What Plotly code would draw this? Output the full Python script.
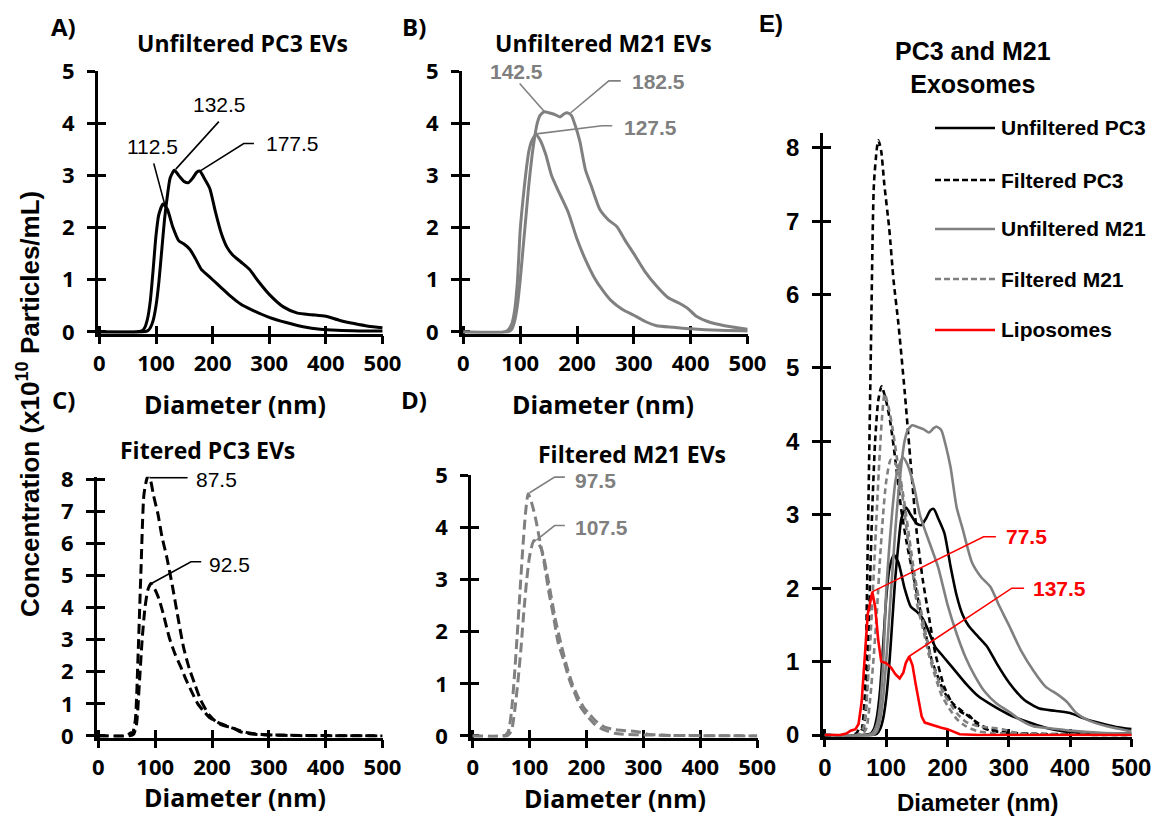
import plotly.graph_objects as go

# ---------------- data ----------------
# Unfiltered PC3 (two replicates)
upc3_a_x = [0, 60, 75, 80, 85, 90, 95, 100, 105, 112.5, 120, 130, 140, 150, 160, 170, 180, 190, 200, 215, 230, 250, 270, 300, 330, 360, 390, 420, 460, 500]
upc3_a_y = [0, 0, 0.02, 0.08, 0.25, 0.6, 1.2, 1.85, 2.25, 2.45, 2.35, 2.0, 1.75, 1.68, 1.58, 1.4, 1.2, 1.1, 1.0, 0.85, 0.7, 0.53, 0.42, 0.28, 0.18, 0.1, 0.05, 0.03, 0.02, 0.02]
upc3_b_x = [0, 75, 85, 90, 95, 100, 105, 110, 115, 120, 125, 132.5, 140, 150, 157.5, 165, 172, 177.5, 185, 195, 205, 215, 225, 235, 250, 265, 280, 300, 325, 350, 375, 400, 425, 450, 475, 500]
upc3_b_y = [0, 0, 0.02, 0.08, 0.22, 0.5, 0.95, 1.55, 2.15, 2.6, 2.95, 3.1, 3.0, 2.88, 2.86, 2.95, 3.06, 3.08, 2.95, 2.75, 2.3, 1.9, 1.63, 1.48, 1.34, 1.2, 0.98, 0.72, 0.48, 0.36, 0.33, 0.3, 0.22, 0.16, 0.11, 0.08]

# Unfiltered M21
um21_a_x = [0, 70, 78, 85, 90, 95, 100, 105, 110, 115, 120, 127.5, 135, 145, 155, 165, 175, 185, 200, 215, 230, 245, 260, 280, 300, 320, 340, 370, 400, 450, 500]
um21_a_y = [0, 0, 0.03, 0.15, 0.4, 0.95, 1.95, 2.55, 3.05, 3.45, 3.65, 3.78, 3.68, 3.4, 3.0, 2.75, 2.52, 2.28, 1.78, 1.38, 1.05, 0.8, 0.6, 0.43, 0.32, 0.2, 0.12, 0.09, 0.06, 0.03, 0.02]
um21_b_x = [0, 78, 85, 90, 95, 100, 105, 110, 115, 120, 125, 130, 135, 142.5, 150, 160, 170, 177.5, 182.5, 190, 197, 205, 215, 225, 240, 255, 270, 285, 300, 320, 340, 360, 380, 395, 410, 430, 460, 500]
um21_b_y = [0, 0, 0.05, 0.2, 0.5, 1.0, 1.6, 2.2, 2.8, 3.3, 3.7, 4.0, 4.15, 4.22, 4.2, 4.17, 4.12, 4.18, 4.2, 4.15, 3.95, 3.65, 3.1, 2.8, 2.35, 2.15, 2.02, 1.75, 1.5, 1.15, 0.88, 0.66, 0.55, 0.45, 0.3, 0.2, 0.12, 0.05]

# Filtered PC3
fpc3_a_x = [0, 45, 52, 57, 60, 65, 70, 75, 80, 85, 87.5, 92, 97, 105, 112, 120, 130, 140, 150, 160, 170, 180, 195, 210, 225, 235, 250, 270, 300, 350, 500]
fpc3_a_y = [0, 0, 0.03, 0.1, 0.08, 0.5, 2.6, 5.2, 7.5, 8.0, 8.1, 7.95, 7.5, 6.9, 6.2, 5.6, 4.7, 3.7, 2.75, 2.1, 1.6, 1.12, 0.65, 0.4, 0.3, 0.27, 0.13, 0.06, 0.03, 0.01, 0]
fpc3_b_x = [0, 55, 62, 67, 72, 77, 82, 87, 92.5, 100, 107, 115, 125, 135, 145, 155, 165, 175, 185, 195, 210, 225, 240, 260, 290, 330, 400, 500]
fpc3_b_y = [0, 0, 0.05, 0.35, 1.6, 3.0, 4.0, 4.55, 4.75, 4.55, 4.25, 3.75, 3.05, 2.55, 2.15, 1.72, 1.35, 1.0, 0.78, 0.58, 0.42, 0.32, 0.22, 0.11, 0.04, 0.02, 0.01, 0]

# Filtered M21
fm21_a_x = [0, 50, 58, 63, 68, 73, 78, 83, 88, 93, 97.5, 103, 110, 118, 126, 134, 142, 150, 160, 170, 180, 190, 200, 215, 230, 250, 270, 300, 350, 500]
fm21_a_y = [0, 0, 0.02, 0.1, 0.45, 1.1, 1.9, 2.75, 3.6, 4.3, 4.65, 4.5, 4.2, 3.75, 3.3, 2.75, 2.3, 1.8, 1.45, 1.08, 0.8, 0.55, 0.4, 0.22, 0.12, 0.05, 0.03, 0.02, 0.01, 0]
fm21_b_x = [0, 60, 68, 74, 80, 85, 90, 95, 100, 107.5, 115, 122, 130, 138, 146, 155, 165, 175, 185, 195, 205, 215, 230, 250, 270, 290, 310, 350, 500]
fm21_b_y = [0, 0, 0.1, 0.5, 1.1, 1.7, 2.4, 3.0, 3.45, 3.75, 3.7, 3.55, 3.15, 2.67, 2.2, 1.78, 1.35, 1.0, 0.75, 0.55, 0.42, 0.3, 0.18, 0.12, 0.1, 0.08, 0.03, 0.01, 0]

# Liposomes
lipo_x = [0, 25, 35, 42, 50, 55, 60, 65, 70, 77.5, 82, 87, 92, 100, 108, 115, 122, 128, 132, 137.5, 143, 148, 153, 158, 163, 170, 180, 190, 200, 210, 220, 250, 300, 400, 500]
lipo_y = [0, 0, 0.02, 0.06, 0.08, 0.15, 0.45, 1.1, 1.65, 1.95, 1.75, 1.3, 1.0, 0.98, 0.92, 0.83, 0.77, 0.85, 0.98, 1.07, 0.95, 0.7, 0.45, 0.25, 0.17, 0.15, 0.13, 0.1, 0.08, 0.04, 0.01, 0, 0, 0, 0]

x_ticks = [0, 100, 200, 300, 400, 500]
legend_names = ["Unfiltered PC3", "Filtered PC3", "Unfiltered M21", "Filtered M21", "Liposomes"]

# peak labels: (panel, text, label x, label y, anchor, leader path points)
peak_labels = [
    ("A", "112.5", 94, 3.55, "center", [(116, 2.42), (96, 3.23)]),
    ("A", "132.5", 213, 4.35, "center", [(135, 3.12), (211, 4.03)]),
    ("A", "177.5", 290, 3.61, "left", [(179, 3.09), (255, 3.61), (273, 3.61)]),
    ("B", "142.5", 94, 4.99, "center", [(142, 4.23), (99, 4.76)]),
    ("B", "182.5", 294, 4.8, "left", [(189, 4.2), (256, 4.81), (277, 4.81)]),
    ("B", "127.5", 279, 3.91, "left", [(125, 3.79), (244, 3.95), (262, 3.95)]),
    ("C", "87.5", 169, 8.0, "left", [(90, 8.05), (157, 8.05)]),
    ("C", "92.5", 192, 5.33, "left", [(90, 4.72), (163, 5.43), (181, 5.43)]),
    ("D", "97.5", 176, 4.9, "left", [(100, 4.67), (144, 4.97), (162, 4.97)]),
    ("D", "107.5", 176, 4.01, "left", [(112, 3.76), (144, 4.04), (162, 4.04)]),
    ("E", "77.5", 292, 2.7, "left", [(77, 1.95), (259, 2.7), (279, 2.7)]),
    ("E", "137.5", 336, 2.0, "left", [(137, 1.07), (305, 2.0), (325, 2.0)]),
]

# ---------------- styling / layout ----------------
OFF = 8                      # page margin of the html body
W, H = 1169 - OFF, 817 - OFF
BLACK = "#000000"
GREY = "#808080"
RED = "#ff0000"
CAL = "Open Sans, Lato, sans-serif"
ARI = "Liberation Sans, Arial, sans-serif"

def px(x):
    return (x - OFF) / W

def py(y):
    return 1 - (y - OFF) / H

panels = {
    "A": dict(n=1, xpx=(97.7, 383), ypx=(71, 333.5), yr=[-0.03, 5], font=CAL, tfs=22, lc=BLACK),
    "B": dict(n=2, xpx=(461.7, 748), ypx=(71, 333.5), yr=[-0.03, 5], font=CAL, tfs=22, lc=GREY),
    "C": dict(n=3, xpx=(96.7, 383), ypx=(476.7, 737.5), yr=[-0.05, 8.08], font=CAL, tfs=22, lc=BLACK),
    "D": dict(n=4, xpx=(471, 757.7), ypx=(475, 737.5), yr=[-0.03, 5.01], font=CAL, tfs=22, lc=GREY),
    "E": dict(n=5, xpx=(823, 1132), ypx=(133, 736.5), yr=[-0.02, 8.2], font=ARI, tfs=24, lc=RED),
}
XR = [-3, 501]

fig = go.Figure()

def ax_names(n):
    return ("x" if n == 1 else f"x{n}", "y" if n == 1 else f"y{n}")

def add_line(panel, xs, ys, color, dash="solid", width=3, shape="spline", name=None, smooth=0.6):
    xa, ya = ax_names(panels[panel]["n"])
    line = dict(color=color, width=width, dash=dash)
    if shape == "spline":
        line.update(shape="spline", smoothing=smooth)
    fig.add_trace(go.Scatter(x=xs, y=ys, mode="lines", line=line, xaxis=xa, yaxis=ya,
                             showlegend=False, hoverinfo="skip", name=name))

D_BIG = "10px,5px"
D_SMALL = "6px,4px"

# panels A-D
add_line("A", upc3_a_x, upc3_a_y, BLACK)
add_line("A", upc3_b_x, upc3_b_y, BLACK)
add_line("B", um21_a_x, um21_a_y, GREY)
add_line("B", um21_b_x, um21_b_y, GREY)
add_line("C", fpc3_a_x, fpc3_a_y, BLACK, dash=D_BIG)
add_line("C", fpc3_b_x, fpc3_b_y, BLACK, dash=D_BIG)
add_line("D", fm21_a_x, fm21_a_y, GREY, dash=D_BIG)
add_line("D", fm21_b_x, fm21_b_y, GREY, dash=D_BIG)

# panel E
ew = 2.6
add_line("E", upc3_a_x, upc3_a_y, BLACK, width=ew, name=legend_names[0])
add_line("E", upc3_b_x, upc3_b_y, BLACK, width=ew)
add_line("E", fpc3_a_x, fpc3_a_y, BLACK, dash=D_SMALL, width=ew, name=legend_names[1])
add_line("E", fpc3_b_x, fpc3_b_y, BLACK, dash=D_SMALL, width=ew)
add_line("E", um21_a_x, um21_a_y, GREY, width=ew, name=legend_names[2])
add_line("E", um21_b_x, um21_b_y, GREY, width=ew)
add_line("E", fm21_a_x, fm21_a_y, GREY, dash=D_SMALL, width=ew, name=legend_names[3])
add_line("E", fm21_b_x, fm21_b_y, GREY, dash=D_SMALL, width=ew)
add_line("E", lipo_x, lipo_y, RED, width=ew, shape="linear", name=legend_names[4])

layout = dict(template="none", width=W, height=H, margin=dict(l=0, r=0, t=0, b=0, pad=0),
              paper_bgcolor="white", plot_bgcolor="white", showlegend=False)

for key, p in panels.items():
    n = p["n"]
    xdom = [px(p["xpx"][0]), px(p["xpx"][1])]
    ydom = [py(p["ypx"][1]), py(p["ypx"][0])]
    tick_font = dict(family=p["font"], size=p["tfs"], color=BLACK)
    ymax = int(p["yr"][1])
    yt = list(range(0, ymax + 1))
    xa_key = "xaxis" if n == 1 else f"xaxis{n}"
    ya_key = "yaxis" if n == 1 else f"yaxis{n}"
    xa_ref, ya_ref = ax_names(n)
    common = dict(showgrid=False, zeroline=False, layer="below traces", fixedrange=True,
                  automargin=False)
    layout[xa_key] = dict(domain=xdom, range=XR, anchor=ya_ref, tickvals=x_ticks,
                          ticktext=[f"<b>{v}</b>" for v in x_ticks],
                          showline=True, linecolor=BLACK, linewidth=2.5,
                          ticks="outside", ticklen=8, tickwidth=2.5, tickcolor=BLACK,
                          tickfont=tick_font, ticklabelstandoff=0, **common)
    layout[ya_key] = dict(domain=ydom, range=p["yr"], anchor=xa_ref, tickvals=yt,
                          ticktext=[f"<b>{v}</b>" for v in yt],
                          showline=True, linecolor=BLACK, linewidth=2.5,
                          ticks="outside", ticklen=8, tickwidth=2.5, tickcolor=BLACK,
                          tickfont=tick_font, ticklabelstandoff=8, **common)
    # overlay axes giving the crossing tick marks
    m = n + 5
    layout[f"xaxis{m}"] = dict(domain=xdom, range=XR, anchor=f"y{m}", overlaying=xa_ref,
                               tickvals=x_ticks, showline=False, showticklabels=False,
                               ticks="inside", ticklen=8, tickwidth=2.5, tickcolor=BLACK, **common)
    layout[f"yaxis{m}"] = dict(domain=ydom, range=p["yr"], anchor=f"x{m}", overlaying=ya_ref,
                               tickvals=yt, showline=False, showticklabels=False,
                               ticks="inside", ticklen=8, tickwidth=2.5, tickcolor=BLACK, **common)
    fig.add_trace(go.Scatter(x=[None], y=[None], xaxis=f"x{m}", yaxis=f"y{m}",
                             showlegend=False, hoverinfo="skip"))

fig.update_layout(**layout)

annotations = []
shapes = []

def txt(x, y, text, size, family, color=BLACK, bold=True, xanchor="center", yanchor="middle", **kw):
    annotations.append(dict(x=x, y=y, xref="paper", yref="paper",
                            text=f"<b>{text}</b>" if bold else text, showarrow=False,
                            xanchor=xanchor, yanchor=yanchor,
                            font=dict(family=family, size=size, color=color), **kw))

# panel letters
txt(px(63), 1.0, "A)", 24, CAL, yanchor="top")
txt(px(414), 1.0, "B)", 24, CAL, yanchor="top")
txt(px(63), py(400), "C)", 24, CAL)
txt(px(414), py(400), "D)", 24, CAL)
txt(px(771), 1.0, "E)", 24, ARI, yanchor="top")

# panel titles
txt(px(242), py(43), "Unfiltered PC3 EVs", 23, CAL)
txt(px(603), py(43), "Unfiltered M21 EVs", 23, CAL)
txt(px(207), py(450), "Fitered PC3 EVs", 23, CAL)
txt(px(632), py(454), "Filtered M21 EVs", 23, CAL)
txt(px(973), py(68), "PC3 and M21<br>Exosomes", 25, ARI)

# x-axis titles
for (cx, cy, fam, fs) in [(235, 404, CAL, 25), (603, 404, CAL, 25), (235, 797, CAL, 25),
                          (615, 798, CAL, 25), (977, 802, ARI, 24)]:
    txt(px(cx), py(cy), "Diameter (nm)", fs, fam)

# y-axis title
txt(px(29), py(404), "Concentration (x10<sup>10</sup> Particles/mL)", 26, ARI, textangle=-90)

# legend for panel E
leg_styles = [(BLACK, "solid"), (BLACK, "dash"), (GREY, "solid"), (GREY, "dash"), (RED, "solid")]
leg_y = [128, 180, 229, 279, 330]
for name, (col, dsh), yy in zip(legend_names, leg_styles, leg_y):
    shapes.append(dict(type="line", xref="paper", yref="paper", x0=px(935), x1=px(995),
                       y0=py(yy), y1=py(yy), line=dict(color=col, width=2.6,
                                                       dash="6px,3px" if dsh == "dash" else "solid")))
    txt(px(999), py(yy), name, 21, ARI, xanchor="left")

# peak labels with leader lines
for panel, text, lx, ly, anchor, pts in peak_labels:
    p = panels[panel]
    xa, ya = ax_names(p["n"])
    col = p["lc"]
    t = text if col == BLACK else f"<b>{text}</b>"
    annotations.append(dict(x=lx, y=ly, xref=xa, yref=ya, text=t, showarrow=False,
                            xanchor=anchor, yanchor="middle",
                            font=dict(family=ARI, size=21, color=col if col != GREY else "#7f7f7f")))
    path = "M " + " L ".join(f"{x},{y}" for x, y in pts)
    shapes.append(dict(type="path", xref=xa, yref=ya, path=path,
                       line=dict(color=col, width=1.6)))

fig.update_layout(annotations=annotations, shapes=shapes)
fig.write_html("out.html")
